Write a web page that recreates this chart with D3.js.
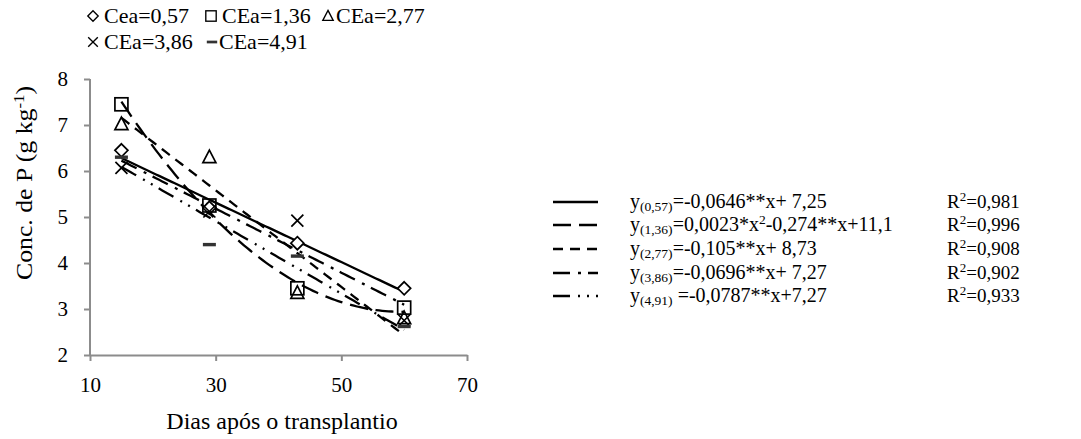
<!DOCTYPE html>
<html>
<head>
<meta charset="utf-8">
<script src="https://cdn.jsdelivr.net/npm/d3@7"></script>
<style>
  html, body { margin: 0; padding: 0; background: #fff; }
  svg text { font-family: "Liberation Serif", "Times New Roman", serif; fill: #000; }
</style>
</head>
<body>
<svg id="chart" width="1081" height="439"></svg>
<script>
// Sampling days and phosphorus concentration per salinity level (CEa)
const days = [15, 29, 43, 60];
const cea057 = [6.45, 5.20, 4.43, 3.45];
const cea136 = [7.45, 5.25, 3.45, 3.03];
const cea277 = [7.02, 6.30, 3.35, 2.80];
const cea386 = [6.07, 5.12, 4.92, 2.75];
const cea491 = [6.30, 4.40, 4.15, 2.62];

const seriesNames = ["Cea=0,57", "CEa=1,36", "CEa=2,77", "CEa=3,86", "CEa=4,91"];
const markers = ["diamond", "square", "triangle", "cross", "dash"];

// Fitted regression coefficients [c0, c1, c2] for y = c0 + c1*x + c2*x^2
const fitCoefs = [
  [7.25, -0.0646, 0],
  [11.1, -0.274, 0.0023],
  [8.73, -0.105, 0],
  [7.27, -0.0696, 0],
  [7.27, -0.0787, 0]
];
const fitSub = ["(0,57)", "(1,36)", "(2,77)", "(3,86)", "(4,91)"];
const fitEq = ["=-0,0646**x+ 7,25", "=0,0023*x", "=-0,105**x+ 8,73", "=-0,0696**x+ 7,27", " =-0,0787**x+7,27"];
const fitR2 = ["=0,981", "=0,996", "=0,908", "=0,902", "=0,933"];
const dashes = [null, "18,8", "10,7", "17,8,3,7", "17,8,2,7,2,7"];

const xTicks = [10, 30, 50, 70];
const yTicks = [2, 3, 4, 5, 6, 7, 8];

const values = [cea057, cea136, cea277, cea386, cea491];

const svg = d3.select("#chart");
const x = d3.scaleLinear().domain([10, 70]).range([90, 467]);
const y = d3.scaleLinear().domain([2, 8]).range([355, 79]);
const axisColor = "#8c8c8c";

// Axes
const gx = svg.append("g").attr("transform", "translate(0,355)")
  .call(d3.axisBottom(x).tickValues(xTicks).tickSize(6).tickPadding(16).tickFormat(d3.format("d")));
const gy = svg.append("g").attr("transform", "translate(90,0)")
  .call(d3.axisLeft(y).tickValues(yTicks).tickSize(6).tickPadding(16).tickFormat(d3.format("d")));
[gx, gy].forEach(g => {
  g.select(".domain").attr("stroke", axisColor).attr("stroke-width", 2);
  g.selectAll(".tick line").attr("stroke", axisColor).attr("stroke-width", 2);
  g.selectAll(".tick text").style("font-size", "21px").attr("fill", "#000");
});
gx.select(".domain").attr("d", "M90,0.5H467.5");
gy.select(".domain").attr("d", "M0,79V355.5");

// Axis titles
svg.append("text").attr("x", 282).attr("y", 429).attr("text-anchor", "middle")
  .style("font-size", "24px").text("Dias após o transplantio");
const yt = svg.append("text").attr("transform", "translate(32,183) rotate(-90) scale(1.12,1)")
  .attr("text-anchor", "middle").style("font-size", "23px");
yt.append("tspan").text("Conc. de P (g kg");
yt.append("tspan").attr("dy", -8).style("font-size", "15px").text("-1");
yt.append("tspan").attr("dy", 8).text(")");

// Regression curves
const xs = d3.range(15, 60.01, 0.5);
const line = d3.line().x(d => x(d[0])).y(d => y(d[1]));
fitCoefs.forEach((c, i) => {
  svg.append("path")
    .attr("d", line(xs.map(v => [v, c[0] + c[1] * v + c[2] * v * v])))
    .attr("fill", "none").attr("stroke", "#000").attr("stroke-width", 2.3)
    .attr("stroke-dasharray", dashes[i]);
});

// Marker shapes
function drawMarker(g, type, cx, cy) {
  const s = 1.7;
  if (type === "diamond") {
    g.append("path").attr("d", `M${cx},${cy-6.5}L${cx+6.5},${cy}L${cx},${cy+6.5}L${cx-6.5},${cy}Z`)
      .attr("fill", "#fff").attr("stroke", "#000").attr("stroke-width", s);
  } else if (type === "square") {
    g.append("rect").attr("x", cx - 6.5).attr("y", cy - 6.5).attr("width", 13).attr("height", 13)
      .attr("fill", "none").attr("stroke", "#000").attr("stroke-width", s);
  } else if (type === "triangle") {
    g.append("path").attr("d", `M${cx},${cy-7}L${cx+6.5},${cy+5.5}L${cx-6.5},${cy+5.5}Z`)
      .attr("fill", "none").attr("stroke", "#000").attr("stroke-width", s);
  } else if (type === "cross") {
    g.append("path").attr("d", `M${cx-6},${cy-6}L${cx+6},${cy+6}M${cx+6},${cy-6}L${cx-6},${cy+6}`)
      .attr("stroke", "#000").attr("stroke-width", s);
  } else if (type === "dash") {
    g.append("rect").attr("x", cx - 6.5).attr("y", cy - 1.7).attr("width", 13).attr("height", 3.4)
      .attr("fill", "#333");
  }
}

const gm = svg.append("g");
values.forEach((vals, i) => {
  vals.forEach((v, j) => drawMarker(gm, markers[i], x(days[j]), y(v)));
});

// Marker legend (top)
const legPos = [[93, 16], [211, 16], [328, 16], [93, 42], [212, 42]];
const legText = [104, 222, 336, 104, 219];
seriesNames.forEach((n, i) => {
  const [lx, ly] = legPos[i];
  const g = svg.append("g");
  const mg = g.append("g").attr("transform", `translate(${lx},${ly}) scale(0.8)`);
  drawMarker(mg, markers[i], 0, 0);
  g.append("text").attr("x", legText[i]).attr("y", ly + 7).style("font-size", "22px").text(n);
});

// Regression legend (right)
const rowY = [202, 225, 249, 273, 296];
fitCoefs.forEach((c, i) => {
  const ry = rowY[i];
  svg.append("line").attr("x1", 553).attr("x2", 598).attr("y1", ry).attr("y2", ry)
    .attr("stroke", "#000").attr("stroke-width", 2.3).attr("stroke-dasharray", dashes[i]);
  const t = svg.append("text").attr("x", 630).attr("y", ry + 6).style("font-size", "20px");
  t.append("tspan").text("y");
  t.append("tspan").attr("dy", 3).style("font-size", "13.5px").text(fitSub[i]);
  t.append("tspan").attr("dy", -3).text(fitEq[i]);
  if (i === 1) {
    t.append("tspan").attr("dy", -7).style("font-size", "13.5px").text("2");
    t.append("tspan").attr("dy", 7).text("-0,274**x+11,1");
  }
  const r = svg.append("text").attr("x", 947).attr("y", ry + 6).style("font-size", "19px");
  r.append("tspan").text("R");
  r.append("tspan").attr("dy", -7).style("font-size", "13px").text("2");
  r.append("tspan").attr("dy", 7).text(fitR2[i]);
});
</script>
</body>
</html>
